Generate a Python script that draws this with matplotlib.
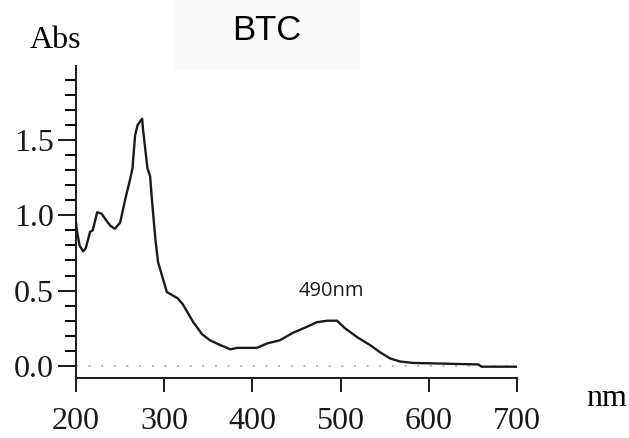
import numpy as np
import matplotlib
matplotlib.use('Agg')
import matplotlib.pyplot as plt
from matplotlib.ticker import MultipleLocator
from matplotlib.patches import Rectangle

# spectrum
wavelength = [200, 201, 204, 208, 211, 216, 219, 224, 229, 235, 239, 244, 250, 256,
              261, 264, 267, 270, 275, 276, 281, 284, 286, 290, 293, 299, 303, 315,
              321, 333, 343, 352, 363, 375, 383, 405, 417, 431, 446, 462, 473, 485,
              496, 505, 519, 533, 545, 556, 567, 582, 656, 660, 700]
absorb = [0.95, 0.90, 0.80, 0.76, 0.78, 0.89, 0.90, 1.02, 1.01, 0.96, 0.93, 0.91, 0.95, 1.11,
          1.23, 1.31, 1.53, 1.60, 1.64, 1.57, 1.31, 1.26, 1.11, 0.84, 0.69, 0.57, 0.49, 0.45,
          0.41, 0.29, 0.21, 0.17, 0.14, 0.11, 0.12, 0.12, 0.15, 0.17, 0.22, 0.26, 0.29, 0.30,
          0.30, 0.25, 0.19, 0.14, 0.09, 0.05, 0.03, 0.02, 0.01, -0.005, -0.005]

xticks = [200, 300, 400, 500, 600, 700]
yticks = [0.0, 0.5, 1.0, 1.5]
ytick_labels = ['0.0', '0.5', '1.0', '1.5']
peak_label = '490nm'
peak_pos = (489, 0.50)

W, H = 629, 438
fig = plt.figure(figsize=(W / 100, H / 100), dpi=100)

# faint title box
fig.patches.append(Rectangle((175 / W, 1 - 70 / H), 185 / W, 70 / H,
                             transform=fig.transFigure, facecolor='#fafafa',
                             edgecolor='none', zorder=0))

ax = fig.add_axes([76 / W, 1 - 378 / H, (517 - 76) / W, (378 - 66) / H])
ax.patch.set_alpha(0)

ax.plot([200, 700], [0, 0], color='#b0b0b0', lw=1.3, ls=(0, (1, 6)))
ax.plot(wavelength, absorb, color='#1a1a1a', lw=1.7)

ax.set_xlim(200, 700)
ax.set_ylim(-0.08, 1.99)

for s in ['top', 'right']:
    ax.spines[s].set_visible(False)
for s in ['left', 'bottom']:
    ax.spines[s].set_linewidth(1.4)
    ax.spines[s].set_color('#1a1a1a')

serif = 'Liberation Serif'
ax.set_xticks(xticks)
ax.set_xticklabels([str(t) for t in xticks], family=serif, fontsize=23)
ax.set_yticks(yticks)
ax.set_yticklabels(ytick_labels, family=serif, fontsize=23)
ax.yaxis.set_minor_locator(MultipleLocator(0.1))
ax.tick_params(axis='x', direction='out', length=10, width=1.4, pad=11, colors='#1a1a1a')
ax.tick_params(axis='y', which='major', direction='out', length=13, width=1.4, pad=3,
               colors='#1a1a1a')
ax.tick_params(axis='y', which='minor', direction='out', length=8, width=1.4)

ax.text(*peak_pos, peak_label, family='Open Sans', fontsize=14.5, ha='center', va='center',
        color='#1a1a1a')

fig.text(55 / W, 1 - 40 / H, 'Abs', family=serif, fontsize=23, ha='center', va='center')
fig.text(607 / W, 1 - 398 / H, 'nm', family=serif, fontsize=23, ha='center', va='center')
fig.text(267 / W, 1 - 31 / H, 'BTC', family='Liberation Sans', fontsize=25,
         ha='center', va='center')

fig.savefig('out.png', dpi=100)
